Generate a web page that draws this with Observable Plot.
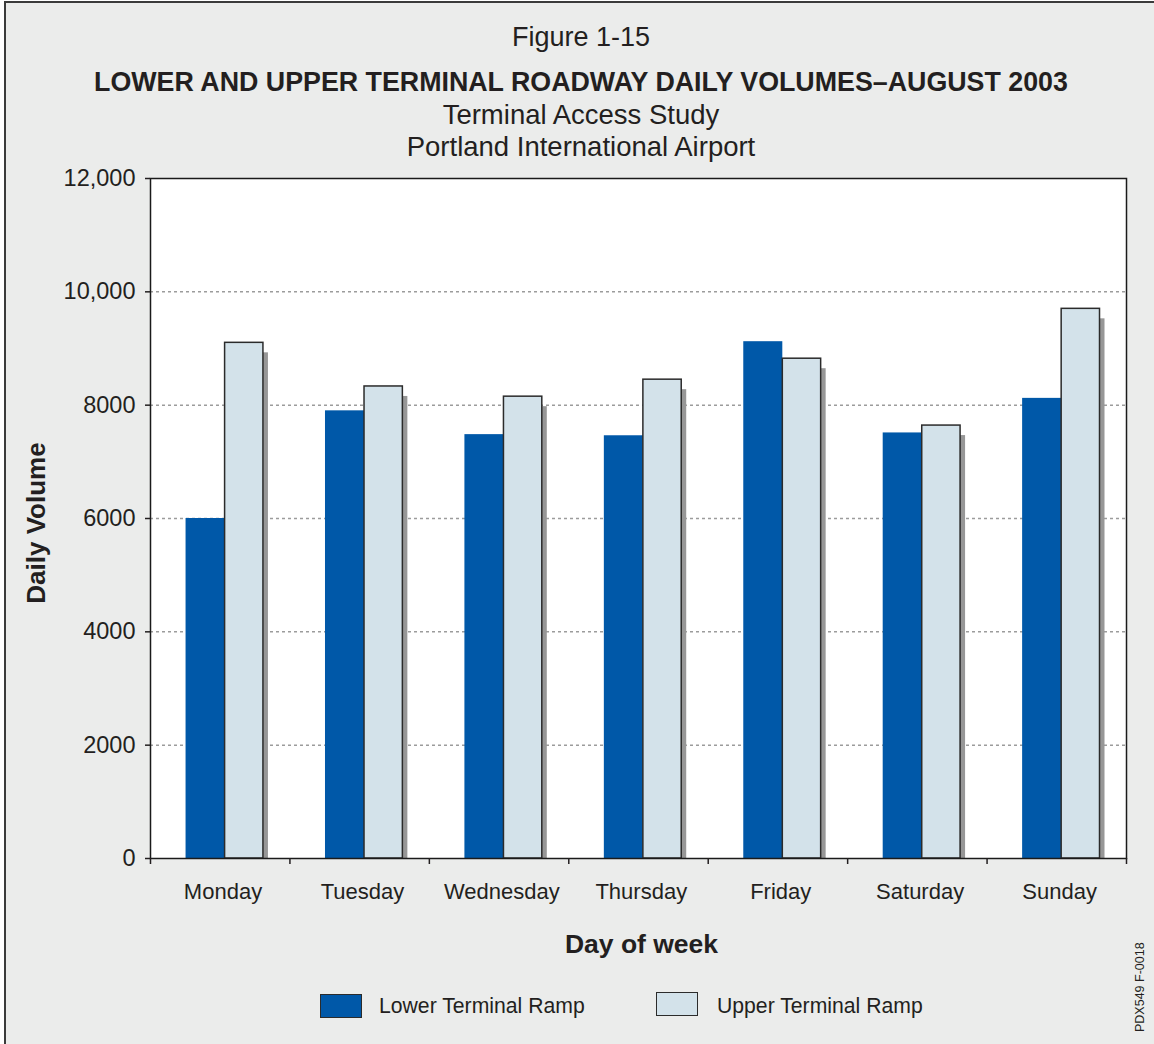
<!DOCTYPE html>
<html>
<head>
<meta charset="utf-8">
<script src="https://cdn.jsdelivr.net/npm/d3@7"></script>
<script src="https://cdn.jsdelivr.net/npm/@observablehq/plot@0.6"></script>
<style>
  html, body { margin: 0; padding: 0; background: #ffffff; }
  body { position: relative; width: 1154px; height: 1044px; overflow: hidden;
         font-family: "Liberation Sans", Arial, Helvetica, sans-serif; color: #231f20; }
  #page { position: absolute; left: 4px; top: 1px; width: 1200px; height: 1100px;
          border: 2px solid #3b3b3b; background: #ebeceb; }
  .hline { position: absolute; left: 0; width: 1162px; text-align: center; white-space: nowrap; }
  #chart { position: absolute; left: 0; top: 160px; }
  .leg-box { position: absolute; width: 42px; height: 24px; border: 1.5px solid #2b2b2b; box-sizing: border-box; }
  .leg-text { position: absolute; font-size: 21.2px; line-height: 21px; white-space: nowrap; }
  #code { position: absolute; left: 1134px; top: 1032px; font-size: 12.5px; line-height: 12.5px;
          transform-origin: 0 0; transform: rotate(-90deg); white-space: nowrap; }
  #ylab { position: absolute; left: 36px; top: 523px; width: 0; height: 0; }
  #ylab span { position: absolute; left: 0; top: 0; font-size: 26px; line-height: 26px; font-weight: bold;
               white-space: nowrap; transform: translate(-50%, -50%) rotate(-90deg); }
</style>
</head>
<body>
<div id="page"></div>
<div class="hline" style="top:24px;font-size:27px;line-height:27px;">Figure 1-15</div>
<div class="hline" style="top:69px;font-size:26.8px;line-height:26px;font-weight:bold;">LOWER AND UPPER TERMINAL ROADWAY DAILY VOLUMES–AUGUST 2003</div>
<div class="hline" style="top:101px;font-size:27.5px;line-height:27px;">Terminal Access Study</div>
<div class="hline" style="top:133px;font-size:27.5px;line-height:27px;">Portland International Airport</div>
<div id="chart"></div>
<div id="ylab"><span>Daily Volume</span></div>
<div id="legend"></div>
<div id="code">PDX549 F-0018</div>
<script>
// ---- data ----
const days = ["Monday", "Tuesday", "Wednesday", "Thursday", "Friday", "Saturday", "Sunday"];
const lowerTerminalRamp = [6000, 7900, 7480, 7460, 9120, 7510, 8120];
const upperTerminalRamp = [9100, 8330, 8150, 8450, 8820, 7640, 9700];
const yTicks = [0, 2000, 4000, 6000, 8000, 10000, 12000];
const yTickLabels = ["0", "2000", "4000", "6000", "8000", "10,000", "12,000"];
const seriesNames = ["Lower Terminal Ramp", "Upper Terminal Ramp"];
const seriesColors = ["#0058a8", "#d3e2ea"];

const rows = days.map((day, i) => ({day, i, lower: lowerTerminalRamp[i], upper: upperTerminalRamp[i]}));

const textColor = "#231f20";
const chart = Plot.plot({
  width: 1154,
  height: 820,
  marginLeft: 150,
  marginRight: 28,
  marginTop: 18,
  marginBottom: 122,
  x: {domain: [0, days.length], axis: null},
  y: {domain: [yTicks[0], yTicks[yTicks.length - 1]], axis: null},
  style: {background: "transparent", fontFamily: "'Liberation Sans', Arial, sans-serif", color: textColor, overflow: "visible"},
  marks: [
    Plot.frame({fill: "#ffffff", stroke: null}),
    Plot.ruleY(yTicks.slice(1, -1), {stroke: "#9c9c9c", strokeWidth: 1.5, strokeDasharray: "3,3"}),
    // drop shadow of the upper bars
    Plot.rectY(rows, {x1: d => d.i + 0.535, x2: d => d.i + 0.81, y1: 0, y2: "upper", fill: "#979797", dx: 5, dy: 10, clip: true}),
    Plot.rectY(rows, {x1: d => d.i + 0.255, x2: d => d.i + 0.535, y1: 0, y2: "lower", fill: seriesColors[0]}),
    Plot.rectY(rows, {x1: d => d.i + 0.535, x2: d => d.i + 0.81, y1: 0, y2: "upper", fill: seriesColors[1], stroke: "#2b2b2b", strokeWidth: 1.5}),
    Plot.frame({stroke: "#1a1a1a", strokeWidth: 1.5}),
    Plot.axisY({ticks: yTicks, tickFormat: d => yTickLabels[yTicks.indexOf(d)], tickSize: 5, tickPadding: 10, fontSize: 23.5, label: null, strokeWidth: 1.5}),
    Plot.axisX({ticks: d3.range(days.length + 1), tickFormat: () => "", tickSize: 6, label: null, strokeWidth: 1.5}),
    Plot.axisX({ticks: days.map((d, i) => i + 0.52), tickFormat: d => days[Math.floor(d)], tickSize: 0, tickPadding: 25, fontSize: 22, label: null}),
    Plot.text(["Day of week"], {frameAnchor: "bottom", dx: 3, dy: 86, fontSize: 26.5, fontWeight: "bold", lineAnchor: "middle", fill: textColor})
  ]
});
document.getElementById("chart").appendChild(chart);

// ---- legend ----
const legend = document.getElementById("legend");
const legendBoxX = [320, 656];
const legendTextX = [379, 717];
seriesNames.forEach((name, k) => {
  const box = document.createElement("div");
  box.className = "leg-box";
  box.style.left = legendBoxX[k] + "px";
  box.style.top = (k === 0 ? 994 : 992) + "px";
  box.style.background = seriesColors[k];
  legend.appendChild(box);
  const t = document.createElement("div");
  t.className = "leg-text";
  t.style.left = legendTextX[k] + "px";
  t.style.top = "995px";
  t.textContent = name;
  legend.appendChild(t);
});
</script>
</body>
</html>
